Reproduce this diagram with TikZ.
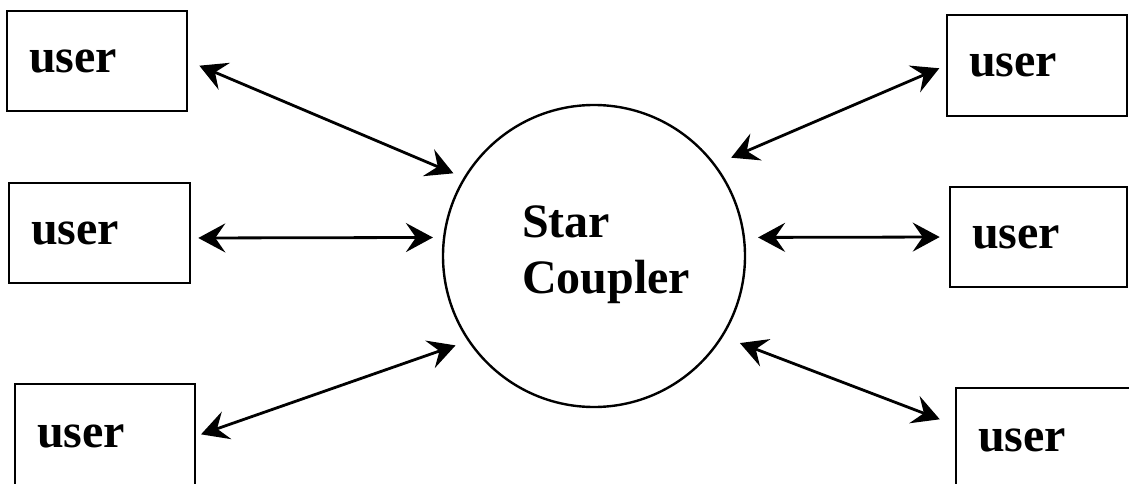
\documentclass[tikz,border=0pt]{standalone}
\usepackage{fontspec}
\setmainfont{Liberation Serif}
\usetikzlibrary{arrows.meta}
\begin{document}
\begin{tikzpicture}[x=1pt,y=-1pt,
  userbox/.style={draw, line width=2.6pt, rectangle, minimum height=100pt,
    inner xsep=22pt, inner ysep=0pt, align=left,
    font=\fontsize{48}{56}\selectfont\bfseries},
  hub/.style={draw, line width=2.4pt, circle, minimum size=302pt, inner sep=0pt},
  hubtext/.style={align=left, inner sep=0pt, font=\fontsize{48}{56}\selectfont\bfseries},
  link/.style={line width=2.8pt, {Stealth[length=27pt,width=29pt,inset=10pt]}-{Stealth[length=27pt,width=29pt,inset=10pt]}}
]
\useasboundingbox (0,0) rectangle (1129,484);

% central coupler and its caption
\node[hub] (sc) at (594,256) {};
\node[hubtext] (sct) at (606,255) {Star\\Coupler};

% users on the left
\node[userbox, text width=136pt] (u1) at (97,61) {user};
\node[userbox, text width=137pt] (u2) at (99.5,233) {user};
\node[userbox, text width=136pt, minimum height=104pt] (u3) at (105,436) {user};

% users on the right
\node[userbox, text width=136pt, minimum height=101pt] (u4) at (1037,65.5) {user};
\node[userbox, text width=133pt] (u5) at (1038.5,237) {user};
\node[userbox, text width=160pt, minimum height=104pt] (u6) at (1058,440) {user};

% links to the coupler
\draw[link, shorten <=12pt, shorten >=11pt] (u1.east) -- (sc.149);
\draw[link, shorten <=7pt, shorten >=10pt] ([yshift=-5pt]u2.east) -- (sc.173);
\draw[link, shorten <=5pt, shorten >=13pt] (u3.east) -- (sc.214);
\draw[link, shorten <=7pt, shorten >=17pt] (u4.west) -- (sc.37);
\draw[link, shorten <=9pt, shorten >=13pt] (u5.west) -- (sc.7);
\draw[link, shorten <=16pt, shorten >=18pt] ([yshift=15pt]u6.west) -- (sc.-32);
\end{tikzpicture}
\end{document}
